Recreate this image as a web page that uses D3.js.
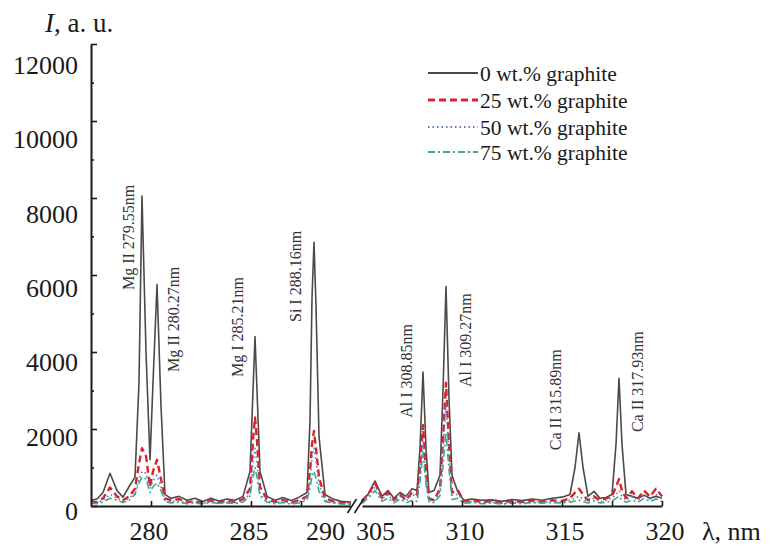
<!DOCTYPE html>
<html>
<head>
<meta charset="utf-8">
<script src="https://cdn.jsdelivr.net/npm/d3@7"></script>
<style>
  body { margin: 0; background: #fff; }
</style>
</head>
<body>
<script>
// wavelengths (nm), left part of the broken axis
var waveLeft = [277.0, 277.3, 277.6, 277.95, 278.3, 278.6, 278.9, 279.2, 279.4, 279.55, 279.75, 279.95, 280.1, 280.3, 280.5, 280.7,
  281.0, 281.4, 281.8, 282.2, 282.6, 283.0, 283.4, 283.8, 284.2, 284.6, 284.95, 285.1, 285.2, 285.3, 285.45, 285.8,
  286.2, 286.6, 287.0, 287.4, 287.8, 287.95, 288.05, 288.15, 288.25, 288.4, 288.7, 289.1, 289.5, 290.0];

var g0Left = [150, 180, 350, 850, 400, 230, 500, 750, 3200, 8050, 4000, 1200, 3200, 5750, 2600, 300,
  200, 250, 150, 200, 120, 200, 130, 180, 150, 250, 900, 3000, 4400, 3000, 900, 250,
  150, 220, 140, 230, 350, 2200, 5400, 6850, 5200, 1800, 300, 180, 120, 100];
var g25Left = [120, 100, 200, 480, 250, 150, 250, 450, 1100, 1500, 1300, 500, 900, 1200, 700, 200,
  150, 180, 100, 130, 80, 150, 90, 140, 100, 180, 450, 1700, 2300, 1700, 500, 180,
  100, 160, 90, 150, 250, 900, 1600, 1950, 1500, 750, 200, 120, 80, 60];
var g50Left = [90, 80, 150, 300, 200, 120, 200, 350, 700, 900, 850, 450, 650, 800, 500, 150,
  110, 130, 80, 100, 70, 110, 80, 100, 80, 130, 320, 1100, 1500, 1100, 320, 130,
  80, 120, 70, 110, 200, 650, 1250, 1500, 1150, 550, 150, 90, 70, 50];
var g75Left = [70, 60, 100, 200, 150, 90, 150, 300, 600, 750, 700, 350, 500, 600, 400, 120,
  80, 100, 60, 80, 50, 90, 60, 80, 60, 100, 260, 750, 1000, 750, 260, 100,
  60, 90, 50, 80, 150, 480, 780, 900, 720, 380, 120, 70, 50, 40];

// wavelengths (nm), right part
var waveRight = [305.0, 305.3, 305.65, 306.0, 306.3, 306.6, 306.9, 307.2, 307.5, 307.75, 307.9, 308.05, 308.2, 308.35, 308.6, 308.9,
  309.05, 309.2, 309.35, 309.5, 309.8, 310.1, 310.5, 311.0, 311.5, 312.0, 312.5, 313.0, 313.5, 314.0, 314.5, 315.0,
  315.4, 315.65, 315.85, 316.05, 316.3, 316.6, 316.9, 317.2, 317.5, 317.7, 317.85, 318.0, 318.2, 318.5, 318.8, 319.1,
  319.4, 319.7, 320.0];

var g0Right = [150, 300, 650, 250, 400, 200, 350, 250, 450, 400, 1500, 3480, 1500, 350, 400, 800,
  3000, 5700, 2800, 800, 350, 150, 180, 150, 160, 120, 170, 140, 180, 150, 200, 230,
  300, 1000, 1900, 1000, 250, 380, 200, 220, 300, 1600, 3320, 1600, 300, 250, 200, 280,
  200, 250, 200];
var g25Right = [120, 300, 600, 200, 350, 150, 300, 150, 350, 300, 1000, 2100, 900, 200, 150, 450,
  1700, 3200, 1600, 350, 400, 120, 150, 100, 130, 90, 130, 100, 140, 110, 150, 130,
  200, 350, 450, 300, 150, 250, 150, 200, 250, 500, 700, 400, 200, 380, 200, 400,
  250, 450, 250];
var g50Right = [100, 250, 500, 180, 300, 120, 250, 130, 300, 250, 850, 1700, 750, 150, 120, 380,
  1400, 2700, 1300, 280, 300, 100, 120, 80, 100, 70, 100, 80, 110, 90, 120, 100,
  150, 200, 250, 180, 120, 200, 120, 150, 200, 300, 400, 250, 150, 250, 150, 300,
  180, 300, 180];
var g75Right = [60, 200, 400, 120, 200, 80, 180, 80, 150, 120, 650, 1400, 550, 100, 90, 270,
  1050, 1900, 950, 170, 200, 70, 90, 60, 80, 50, 80, 60, 90, 70, 90, 80,
  100, 130, 150, 110, 80, 130, 80, 100, 130, 200, 250, 150, 100, 150, 100, 200,
  120, 180, 120];

var seriesNames = ["0 wt.% graphite", "25 wt.% graphite", "50 wt.% graphite", "75 wt.% graphite"];
var seriesLeft = [g0Left, g25Left, g50Left, g75Left];
var seriesRight = [g0Right, g25Right, g50Right, g75Right];

// peak annotations: label, wavelength where the label sits, intensity where it starts
var peakLabels = ["Mg II 279.55nm", "Mg II 280.27nm", "Mg I 285.21nm", "Si I 288.16nm",
  "Al I 308.85nm", "Al I 309.27nm", "Ca II 315.89nm", "Ca II 317.93nm"];
var peakLabelWave = [278.85, 281.1, 284.3, 287.2, 307.2, 310.15, 314.65, 318.75];
var peakLabelInt = [5610, 3480, 3350, 4780, 2290, 3090, 1450, 1920];

var yTicks = [0, 2000, 4000, 6000, 8000, 10000, 12000];
var xTicksLeft = [280, 285];
var xTicksRight = [310, 315, 320];

var width = 771, height = 545;
var serif = "Liberation Serif";
var ink = "#1a1a1a";
var svg = d3.select("body").append("svg")
  .attr("width", width)
  .attr("height", height)
  .attr("font-family", serif);

var xL = d3.scaleLinear().domain([277, 290]).range([91, 351]);
var xR = d3.scaleLinear().domain([305, 320]).range([362, 662]);
var y = d3.scaleLinear().domain([0, 12000]).range([506, 44]);
// the tick numbers in the figure sit a bit lower than their ticks
var yLab = d3.scaleLinear().domain([0, 12000]).range([511, 65]);

var styles = [
  {color: "#4a4a4a", width: 1.6, dash: null},
  {color: "#d9232b", width: 2.4, dash: "7,4"},
  {color: "#5a7dc4", width: 1.6, dash: "1.5,3"},
  {color: "#3ea88a", width: 1.6, dash: "7,3,2,3"}
];

function drawSeries(xs, waves, vals, st) {
  var line = d3.line()
    .x(function(d, i) { return xs(waves[i]); })
    .y(function(d) { return y(d); });
  svg.append("path")
    .datum(vals)
    .attr("d", line)
    .attr("fill", "none")
    .attr("stroke", st.color)
    .attr("stroke-width", st.width)
    .attr("stroke-dasharray", st.dash)
    .attr("stroke-linejoin", "round");
}

for (var k = 0; k < 4; k++) {
  drawSeries(xL, waveLeft, seriesLeft[k], styles[k]);
  drawSeries(xR, waveRight, seriesRight[k], styles[k]);
}

// y axis
var yMajor = svg.append("g")
  .attr("transform", "translate(91,0)")
  .call(d3.axisRight(y).tickValues(yTicks).tickSize(6).tickSizeOuter(0).tickFormat(""));
svg.append("g")
  .attr("transform", "translate(91,0)")
  .call(d3.axisRight(y).tickValues(d3.range(1000, 12000, 2000)).tickSize(3).tickSizeOuter(0).tickFormat(""))
  .select(".domain").remove();
yMajor.select(".domain").attr("stroke-width", 2).attr("stroke", ink);

svg.selectAll(".ylab")
  .data(yTicks)
  .enter().append("text")
  .attr("class", "ylab")
  .attr("x", 78)
  .attr("y", function(d) { return yLab(d); })
  .attr("dy", "0.35em")
  .attr("text-anchor", "end")
  .attr("font-family", serif)
  .attr("fill", ink)
  .style("font-size", "26px")
  .text(function(d) { return d; });

// x axis, two pieces
var axL = svg.append("g")
  .attr("transform", "translate(0,506)")
  .call(d3.axisTop(xL).tickValues([280, 282.5, 285, 287.5]).tickSize(5).tickSizeOuter(0).tickFormat(""));
var axR = svg.append("g")
  .attr("transform", "translate(0,506)")
  .call(d3.axisTop(xR).tickValues([307.5, 310, 312.5, 315, 317.5, 320]).tickSize(5).tickSizeOuter(0).tickFormat(""));
axL.select(".domain").attr("stroke-width", 2).attr("stroke", ink);
axR.select(".domain").attr("stroke-width", 2).attr("stroke", ink);
svg.selectAll(".tick line").attr("stroke", ink).attr("stroke-width", 1.6);

// break marks
var bx = (xL(290) + xR(305)) / 2;
[-4, 3].forEach(function(off) {
  svg.append("line")
    .attr("x1", bx + off - 5).attr("y1", 513)
    .attr("x2", bx + off + 4).attr("y2", 499)
    .attr("stroke", ink).attr("stroke-width", 1.6);
});

function label(x, yy, txt, anchor) {
  return svg.append("text")
    .attr("x", x).attr("y", yy)
    .attr("text-anchor", anchor)
    .attr("font-family", serif)
    .attr("fill", ink)
    .style("font-size", "26px")
    .text(txt);
}
xTicksLeft.forEach(function(d) { label(xL(d) - 2, 540, d, "middle"); });
xTicksRight.forEach(function(d) { label(xR(d) + 3, 540, d, "middle"); });
label(xL(290) - 6, 540, "290", "end");
label(xR(305) - 6, 540, "305", "start");
label(702, 540, "λ, nm", "start");

// y title
var yt = svg.append("text")
  .attr("x", 45).attr("y", 32)
  .attr("font-family", serif)
  .attr("fill", ink)
  .style("font-size", "27px");
yt.append("tspan").style("font-style", "italic").text("I");
yt.append("tspan").text(", a. u.");

// peak labels
svg.selectAll(".peak")
  .data(peakLabels)
  .enter().append("text")
  .attr("class", "peak")
  .attr("transform", function(d, i) {
    var px = peakLabelWave[i] < 300 ? xL(peakLabelWave[i]) : xR(peakLabelWave[i]);
    return "translate(" + px + "," + y(peakLabelInt[i]) + ") rotate(-90)";
  })
  .attr("dy", "0.35em")
  .attr("font-family", serif)
  .attr("fill", "#333")
  .style("font-size", "16px")
  .text(function(d) { return d; });

// legend
var legY = [73, 100, 127, 152];
var leg = svg.selectAll(".leg")
  .data(seriesNames)
  .enter().append("g")
  .attr("transform", function(d, i) { return "translate(428," + legY[i] + ")"; });
leg.append("line")
  .attr("x1", 0).attr("x2", 50)
  .attr("stroke", function(d, i) { return styles[i].color; })
  .attr("stroke-width", function(d, i) { return styles[i].width + 0.4; })
  .attr("stroke-dasharray", function(d, i) { return styles[i].dash; });
leg.append("text")
  .attr("x", 52)
  .attr("dy", "0.35em")
  .attr("font-family", serif)
  .attr("fill", ink)
  .style("font-size", "21.5px")
  .text(function(d) { return d; });
</script>
</body>
</html>
